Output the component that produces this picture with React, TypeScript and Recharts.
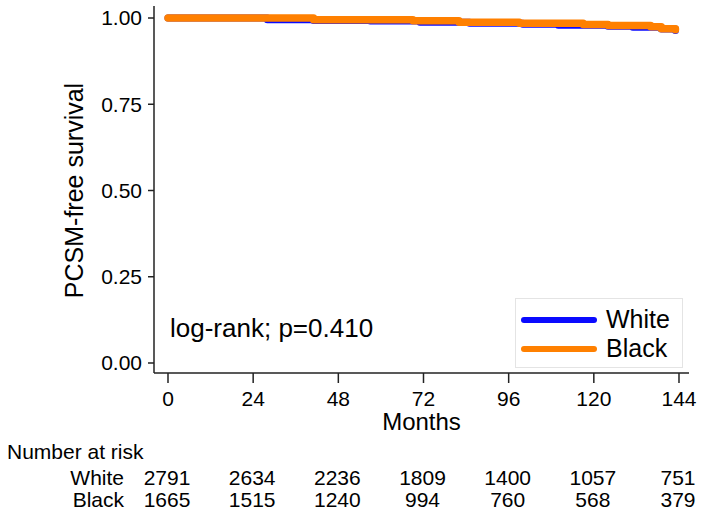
import React from 'react';
import { LineChart, Line, XAxis, YAxis, Legend } from 'recharts';

// Kaplan-Meier estimates (months, survival)
const whiteMonths = [0, 28, 41, 57, 71, 85, 100, 110, 124, 131, 139, 143];
const whiteSurv = [1.0, 0.995, 0.993, 0.991, 0.988, 0.985, 0.982, 0.979, 0.976, 0.973, 0.968, 0.964];
const blackMonths = [0, 41, 69, 82, 99, 117, 124, 136, 139, 143];
const blackSurv = [1.0, 0.995, 0.992, 0.988, 0.985, 0.981, 0.978, 0.975, 0.969, 0.966];

const xTicks = [0, 24, 48, 72, 96, 120, 144];
const yTicks = [0, 0.25, 0.5, 0.75, 1];

const riskGroups = ['White', 'Black'];
const whiteAtRisk = [2791, 2634, 2236, 1809, 1400, 1057, 751];
const blackAtRisk = [1665, 1515, 1240, 994, 760, 568, 379];

const W = 704;
const H = 517;
const FONT = '"Liberation Sans", Arial, Helvetica, sans-serif';
const BLUE = '#0a0aff';
const ORANGE = '#ff8000';

// plot area geometry
const PLOT_LEFT = 154;
const PLOT_RIGHT = 689;
const X_MIN = -3.945;
const X_MAX = 146.82;
const Y_MIN = -0.029;
const Y_MAX = 1.0348;

const monthToPx = (t: number) =>
  PLOT_LEFT + ((t - X_MIN) / (X_MAX - X_MIN)) * (PLOT_RIGHT - PLOT_LEFT);

const whiteData = whiteMonths.map((t, i) => ({ t, s: whiteSurv[i] }));
const blackData = blackMonths.map((t, i) => ({ t, s: blackSurv[i] }));

const LegendBox = () => (
  <div
    style={{
      width: 168,
      height: 70,
      boxSizing: 'border-box',
      border: '1px solid #e4e4e4',
      background: '#fff',
      paddingTop: 6,
      fontFamily: FONT,
    }}
  >
    {[
      { name: 'White', color: BLUE },
      { name: 'Black', color: ORANGE },
    ].map((d) => (
      <div key={d.name} style={{ display: 'flex', alignItems: 'center', height: 29 }}>
        <div style={{ marginLeft: 5, width: 76, height: 6, borderRadius: 3, background: d.color }} />
        <span style={{ marginLeft: 9, fontSize: 25, color: '#000', lineHeight: '29px' }}>{d.name}</span>
      </div>
    ))}
  </div>
);

export default function App() {
  const rows = [whiteAtRisk, blackAtRisk];
  return (
    <div style={{ position: 'absolute', left: 0, top: 0, width: W, height: H, background: '#fff' }}>
      <LineChart width={W} height={H} margin={{ top: 6, right: W - PLOT_RIGHT, left: 14, bottom: 84 }}>
        <XAxis
          type="number"
          dataKey="t"
          domain={[X_MIN, X_MAX]}
          ticks={xTicks}
          allowDataOverflow
          height={60}
          tickSize={10}
          tickMargin={8}
          stroke="#222"
          strokeWidth={1.5}
          tick={{ fill: '#000', fontSize: 21, fontFamily: FONT }}
          label={({ viewBox }: any) => (
            <text
              x={viewBox.x + viewBox.width / 2}
              y={viewBox.y + 57}
              textAnchor="middle"
              fontSize={24}
              fontFamily={FONT}
              fill="#000"
            >
              Months
            </text>
          )}
        />
        <YAxis
          type="number"
          domain={[Y_MIN, Y_MAX]}
          ticks={yTicks}
          allowDataOverflow
          width={140}
          tickSize={6}
          tickMargin={6}
          stroke="#222"
          strokeWidth={1.5}
          tickFormatter={(v: number) => v.toFixed(2)}
          tick={{ fill: '#000', fontSize: 21, fontFamily: FONT }}
          label={({ viewBox }: any) => {
            const cx = viewBox.x + 60;
            const cy = viewBox.y + viewBox.height / 2 + 1;
            return (
              <text
                x={cx}
                y={cy}
                transform={`rotate(-90 ${cx} ${cy})`}
                textAnchor="middle"
                dominantBaseline="central"
                fontSize={25}
                fontFamily={FONT}
                fill="#000"
              >
                PCSM-free survival
              </text>
            );
          }}
        />
        <Legend
          layout="vertical"
          align="center"
          verticalAlign="middle"
          content={() => <LegendBox />}
          wrapperStyle={{ left: 515, top: 298, width: 168, height: 70 }}
        />
        <Line
          data={whiteData}
          dataKey="s"
          name="White"
          type="stepAfter"
          stroke={BLUE}
          strokeWidth={7}
          strokeLinecap="round"
          strokeLinejoin="round"
          dot={false}
          isAnimationActive={false}
        />
        <Line
          data={blackData}
          dataKey="s"
          name="Black"
          type="stepAfter"
          stroke={ORANGE}
          strokeWidth={7.5}
          strokeLinecap="round"
          strokeLinejoin="round"
          dot={false}
          isAnimationActive={false}
        />
      </LineChart>
      <svg
        width={W}
        height={H}
        style={{ position: 'absolute', left: 0, top: 0, pointerEvents: 'none' }}
        fontFamily={FONT}
      >
        <text x={170} y={337} fontSize={26} fill="#000">
          log-rank; p=0.410
        </text>
        <text x={7} y={459} fontSize={21} fill="#000">
          Number at risk
        </text>
        {riskGroups.map((g, r) => (
          <g key={g}>
            <text x={124} y={485 + r * 22} fontSize={21} textAnchor="end" fill="#000">
              {g}
            </text>
            {rows[r].map((n, i) => (
              <text key={i} x={monthToPx(xTicks[i]) - 1} y={485 + r * 22} fontSize={21} textAnchor="middle" fill="#000">
                {n}
              </text>
            ))}
          </g>
        ))}
      </svg>
    </div>
  );
}
